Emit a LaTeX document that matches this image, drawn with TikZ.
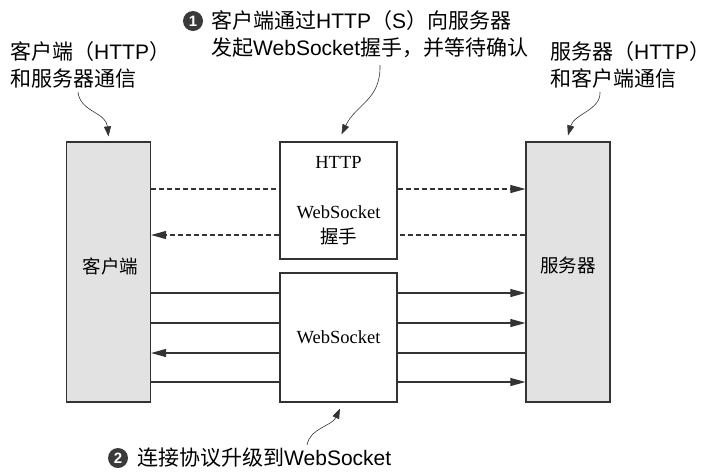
\documentclass[tikz,border=0pt]{standalone}
\usepackage{fontspec}
\setmainfont{Liberation Serif}
\setsansfont{Liberation Sans}
\newfontfamily\cjk{Noto Sans CJK SC}
\usetikzlibrary{arrows.meta}
\definecolor{boxgray}{HTML}{E2E2E2}
\definecolor{linegray}{HTML}{333333}
\definecolor{dotgray}{HTML}{3A3A3A}
\newcommand{\zh}[1]{{\cjk #1}}

\begin{document}
\begin{tikzpicture}[x=1pt,y=-1pt,
        endbox/.style={draw=linegray,line width=1.2pt,fill=boxgray,minimum width=84pt,minimum height=260pt,inner sep=0pt},
        midbox/.style={draw=linegray,line width=1.2pt,fill=white,minimum width=117pt,inner sep=0pt,align=center,font=\fontsize{18.5}{25}\selectfont},
        note/.style={anchor=west,align=left,inner sep=0pt,font=\sffamily\fontsize{21}{27}\selectfont},
        numdot/.style={circle,fill=dotgray,text=white,minimum size=20pt,inner sep=0pt,font=\sffamily\bfseries\fontsize{15}{15}\selectfont},
        link/.style={linegray,line width=1.1pt},
        dashlink/.style={link,dash pattern=on 5pt off 3pt},
        arrowhd/.style={-{Triangle[length=15pt,width=8pt]}},
        remark/.style={linegray,line width=0.6pt,-{Triangle[length=10pt,width=7pt]}}]
        \useasboundingbox (0,0) rectangle (714,472);
        % Client i servidor als costats
        \node[endbox] (client) at (108.5,272) {};
        \node[endbox] (server) at (568,272) {};
        \node[font=\cjk\fontsize{18.5}{25}\selectfont] (clientlbl) at ([xshift=2pt,yshift=6pt]client.center) {客户端};
        \node[font=\cjk\fontsize{18.5}{25}\selectfont] (serverlbl) at ([yshift=7pt]server.center) {服务器};
        % Caixes del mig: handshake i WebSocket
        \node[midbox,minimum height=117pt] (hs) at (338.5,200.5) {HTTP\\[25pt]WebSocket\\\zh{握手}};
        \node[midbox,minimum height=129pt] (ws) at (338.5,337.5) {WebSocket};
        % Fletxes discontinues (HTTP)
        \coordinate (up) at (0,189);
        \coordinate (down) at (0,235);
        \draw[dashlink] (client.east |- up) -- (hs.west |- up);
        \draw[dashlink,arrowhd] (hs.east |- up) -- (server.west |- up);
        \draw[dashlink] (server.west |- down) -- (hs.east |- down);
        \draw[dashlink,arrowhd] (hs.west |- down) -- (client.east |- down);
        % Fletxes continues (WebSocket)
        \coordinate (r1) at (0,293);
        \coordinate (r2) at (0,323);
        \coordinate (r3) at (0,353);
        \coordinate (r4) at (0,382);
        \draw[link] (client.east |- r1) -- (ws.west |- r1);
        \draw[link,arrowhd] (ws.east |- r1) -- (server.west |- r1);
        \draw[link] (client.east |- r2) -- (ws.west |- r2);
        \draw[link,arrowhd] (ws.east |- r2) -- (server.west |- r2);
        \draw[link] (server.west |- r3) -- (ws.east |- r3);
        \draw[link,arrowhd] (ws.west |- r3) -- (client.east |- r3);
        \draw[link] (client.east |- r4) -- (ws.west |- r4);
        \draw[link,arrowhd] (ws.east |- r4) -- (server.west |- r4);
        % Textos de dalt i de baix
        \node[note] (noteL) at (10,64.5) {\zh{客户端（}HTTP\zh{）}\\\zh{和服务器通信}};
        \node[note] (noteR) at (550,64.5) {\zh{服务器（}HTTP\zh{）}\\\zh{和客户端通信}};
        \node[note] (noteT) at (211,34.5) {\zh{客户端通过}HTTP\zh{（}S\zh{）向服务器}\\\zh{发起}WebSocket\zh{握手，并等待确认}};
        \node[numdot] (one) at (193,21) {1};
        \node[note] (noteB) at (137,458) {\zh{连接协议升级到}WebSocket};
        \node[numdot] (two) at (118,458) {2};
        % Fletxes corbes de les notes
        \coordinate (fromL) at (78,92);
        \coordinate (fromT) at (380,65);
        \coordinate (fromR) at (600,92);
        \coordinate (fromB) at (307,445);
        \draw[remark] (fromL) .. controls (80,112) and (106,112) .. ([yshift=5pt]client.north);
        \draw[remark] (fromT) .. controls (381,100) and (356,104) .. ([xshift=3pt,yshift=7pt]hs.north);
        \draw[remark] (fromR) .. controls (601,110) and (574,114) .. ([yshift=6pt]server.north);
        \draw[remark] (fromB) .. controls (310,428) and (332,426) .. ([xshift=1.5pt,yshift=-6pt]ws.south);
    \end{tikzpicture}
\end{document}
